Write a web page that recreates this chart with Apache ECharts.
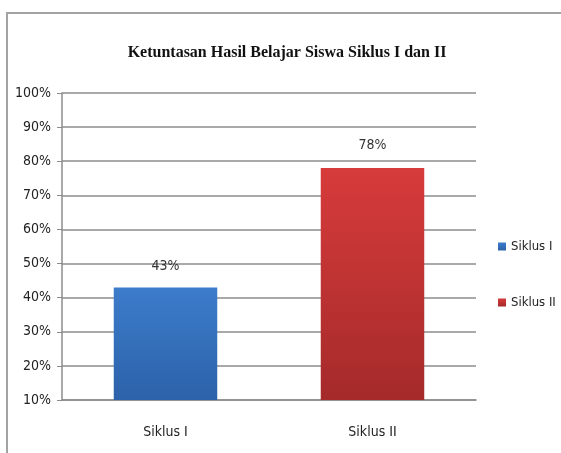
<!DOCTYPE html>
<html>
<head>
<meta charset="utf-8">
<script src="https://cdn.jsdelivr.net/npm/echarts@6/dist/echarts.min.js"></script>
<style>
  html, body { margin: 0; padding: 0; background: #fff; }
  #chart { width: 561px; height: 453px; }
</style>
</head>
<body>
<div id="chart"></div>
<script>
// data
var categories = ['Siklus I', 'Siklus II']
var siklus1 = [43, '-']
var siklus2 = ['-', 78]
var yTicks = { min: 10, max: 100, step: 10 }

var labelFont = "'DejaVu Sans Condensed', 'Liberation Sans Narrow', 'Roboto', sans-serif"

var chart = echarts.init(document.getElementById('chart'))

function grad(top, bottom) {
  return new echarts.graphic.LinearGradient(0, 0, 0, 1, [
    { offset: 0, color: top },
    { offset: 1, color: bottom }
  ])
}

var option = {
  backgroundColor: '#fff',
  animation: false,
  title: {
    text: 'Ketuntasan Hasil Belajar Siswa Siklus I dan II',
    left: 282,
    textAlign: 'center',
    top: 40,
    textStyle: {
      fontFamily: "'Liberation Serif', serif",
      fontWeight: 'bold',
      fontSize: 16,
      color: '#111'
    }
  },
  graphic: [{
    type: 'rect',
    shape: { x: 7, y: 13, width: 700, height: 600 },
    style: { fill: 'none', stroke: '#a3a3a3', lineWidth: 2 },
    silent: true
  }],
  legend: {
    orient: 'vertical',
    left: 493,
    top: 235,
    itemWidth: 8,
    itemHeight: 8,
    itemGap: 43,
    itemStyle: { borderWidth: 0 },
    icon: 'rect',
    textStyle: { fontFamily: labelFont, fontSize: 13, color: '#222' },
    data: ['Siklus I', 'Siklus II']
  },
  grid: { left: 62, right: 85, top: 93, bottom: 53 },
  xAxis: {
    type: 'category',
    data: categories,
    axisLine: { lineStyle: { color: '#8c8c8c', width: 1.5 } },
    axisTick: { length: 5, lineStyle: { color: '#8c8c8c' } },
    axisLabel: { margin: 25, fontFamily: labelFont, fontSize: 14, color: '#222' }
  },
  yAxis: {
    type: 'value',
    min: yTicks.min,
    max: yTicks.max,
    interval: yTicks.step,
    axisLine: { show: true, lineStyle: { color: '#8c8c8c', width: 1.5 } },
    axisTick: { show: true, length: 5, lineStyle: { color: '#8c8c8c' } },
    axisLabel: { formatter: '{value}%', margin: 11, fontFamily: labelFont, fontSize: 14, color: '#222' },
    splitLine: { lineStyle: { color: '#8c8c8c', width: 1.5 } }
  },
  series: [{
    name: 'Siklus I',
    type: 'bar',
    data: siklus1,
    barWidth: '50%',
    barGap: '-100%',
    itemStyle: { color: grad('#3c7ccb', '#2c62a9') },
    label: { show: true, position: 'top', distance: 14, formatter: '{c}%', fontFamily: labelFont, fontSize: 14, color: '#333' }
  }, {
    name: 'Siklus II',
    type: 'bar',
    data: siklus2,
    barWidth: '50%',
    barGap: '-100%',
    itemStyle: { color: grad('#d73b3b', '#a52a2a') },
    label: { show: true, position: 'top', distance: 16, formatter: '{c}%', fontFamily: labelFont, fontSize: 14, color: '#333' }
  }]
}

chart.setOption(option)
</script>
</body>
</html>
